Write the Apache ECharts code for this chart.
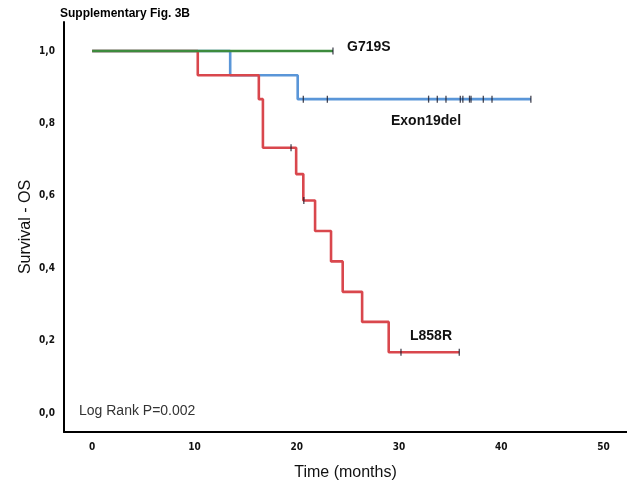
<!DOCTYPE html>
<html>
<head>
<meta charset="utf-8">
<script src="https://cdn.jsdelivr.net/npm/echarts@6/dist/echarts.min.js"></script>
<style>
  html, body { margin: 0; padding: 0; background: #fff; }
  #chart { width: 627px; height: 486px; }
</style>
</head>
<body>
<div id="chart"></div>
<script>
// Kaplan-Meier overall survival by EGFR mutation type.
// Each curve: event times (months) and survival after each step.
const g719sTimes = [0, 23.55];
const g719sSurv = [1.0, 1.0];
const g719sCensor = [23.55];

const exon19Times = [0, 13.5, 20.1, 42.9];
const exon19Surv = [1.0, 0.933, 0.867, 0.867];
const exon19Censor = [20.65, 23.0, 32.9, 33.75, 34.6, 36.0, 36.25, 36.9, 37.05, 38.25, 39.1, 42.9];

const l858rTimes = [0, 10.33, 16.3, 16.7, 19.95, 20.65, 21.8, 23.36, 24.5, 26.4, 29.0, 35.9];
const l858rSurv = [1.0, 0.933, 0.867, 0.733, 0.66, 0.587, 0.503, 0.419, 0.335, 0.252, 0.168, 0.168];
const l858rCensor = [19.45, 20.7, 30.2, 35.9];

const xTicks = [0, 10, 20, 30, 40, 50];
const yTicks = [0, 0.2, 0.4, 0.6, 0.8, 1.0];

const colGreen = '#3d8b3d';
const colBlue = '#5a96d8';
const colRed = '#d9474d';

function pairs(t, s) { return t.map((v, i) => [v, s[i]]); }
// survival value held at time x (step function, right-continuous)
function survAt(t, s, x) {
  let v = s[0];
  for (let i = 0; i < t.length; i++) { if (t[i] <= x) v = s[i]; }
  return v;
}
function censorPts(t, s, c) { return c.map(x => [x, survAt(t, s, x)]); }

const chart = echarts.init(document.getElementById('chart'), null, { renderer: 'canvas' });

const narrowBold = { fontFamily: '"Liberation Sans Narrow", "DejaVu Sans Condensed", sans-serif', fontWeight: 'bold', fontSize: 10, color: '#111' };

function curve(name, t, s, color, z) {
  return {
    name, type: 'line', step: 'end', data: pairs(t, s), showSymbol: false, symbol: 'none',
    lineStyle: { color, width: 2.6 }, z, animation: false, silent: true
  };
}
function censor(t, s, c, z) {
  return {
    type: 'scatter', data: censorPts(t, s, c), symbol: 'rect', symbolSize: [1.3, 7],
    itemStyle: { color: '#1a1a2a' }, z, animation: false, silent: true
  };
}

chart.setOption({
  backgroundColor: '#fff',
  animation: false,
  grid: { left: 64, right: 0, top: 22, bottom: 54, containLabel: false },
  xAxis: {
    type: 'value', min: -2.75, max: 52.3,
    axisLine: { show: true, onZero: false, lineStyle: { color: '#000', width: 2 } },
    axisTick: { show: false },
    splitLine: { show: false },
    axisLabel: Object.assign({ customValues: xTicks, margin: 10 }, narrowBold),
    name: 'Time (months)', nameLocation: 'middle', nameGap: 33, nameMoveOverlap: false,
    nameTextStyle: { fontFamily: '"Liberation Sans", Arial, sans-serif', fontSize: 16, color: '#111' }
  },
  yAxis: {
    type: 'value', min: -0.052, max: 1.08,
    axisLine: { show: true, onZero: false, lineStyle: { color: '#000', width: 2 } },
    axisTick: { show: false },
    splitLine: { show: false },
    axisLabel: Object.assign({ customValues: yTicks, margin: 9,
      formatter: v => v.toFixed(1).replace('.', ',') }, narrowBold),
    name: 'Survival - OS', nameLocation: 'middle', nameGap: 30, nameRotate: 90, nameMoveOverlap: false,
    nameTextStyle: { fontFamily: '"Liberation Sans", Arial, sans-serif', fontSize: 16, color: '#111' }
  },
  series: [
    curve('Exon19del', exon19Times, exon19Surv, colBlue, 2),
    curve('L858R', l858rTimes, l858rSurv, colRed, 3),
    curve('G719S', g719sTimes, g719sSurv, colGreen, 4),
    censor(exon19Times, exon19Surv, exon19Censor, 5),
    censor(l858rTimes, l858rSurv, l858rCensor, 5),
    censor(g719sTimes, g719sSurv, g719sCensor, 5)
  ],
  graphic: [
    { type: 'text', left: 60, top: 8, style: { text: 'Supplementary Fig. 3B', font: 'bold 12px "Liberation Sans", Arial, sans-serif', fill: '#000' } },
    { type: 'text', left: 347, top: 40, style: { text: 'G719S', font: 'bold 14px "Liberation Sans", Arial, sans-serif', fill: '#111' } },
    { type: 'text', left: 391, top: 114, style: { text: 'Exon19del', font: 'bold 14px "Liberation Sans", Arial, sans-serif', fill: '#111' } },
    { type: 'text', left: 410, top: 329, style: { text: 'L858R', font: 'bold 14px "Liberation Sans", Arial, sans-serif', fill: '#111' } },
    { type: 'text', left: 79, top: 404, style: { text: 'Log Rank P=0.002', font: '14px "Liberation Sans", Arial, sans-serif', fill: '#333' } }
  ]
});
</script>
</body>
</html>
